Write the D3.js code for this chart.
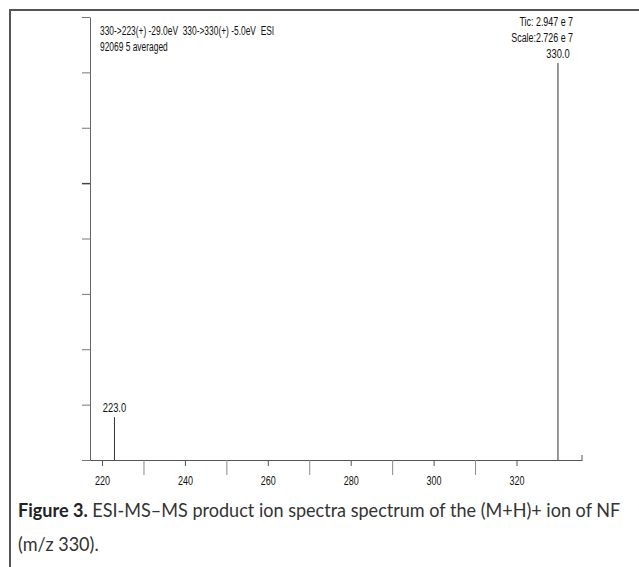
<!DOCTYPE html>
<html lang="en">
<head>
  <meta charset="UTF-8">
  <title>ESI-MS-MS product ion spectrum</title>
  <style>
    body {
      margin: 0;
      background: #fff;
    }
    .narrow {
      font-family: 'Liberation Sans Narrow', 'Liberation Sans', Arial, sans-serif;
      fill: #111;
    }
    .caption {
      font-family: 'Lato', 'Noto Sans', sans-serif;
      fill: #333;
    }
  </style>
  <script src="https://d3js.org/d3.v7.min.js"></script>
</head>
<body>
  <svg id="chart" width="639" height="567"></svg>

  <script>
    // peaks: m/z and relative abundance (330 = 100)
    const peakMz = [223.0, 330.0];
    const peakAbund = [10.8, 100];
    const peakLabels = ["223.0", "330.0"];

    const xTicks = [220, 240, 260, 280, 300, 320];
    const xMinor = [230, 250, 270, 290, 310];
    const yMax = 111.6;
    const yTicks = d3.range(0, 9).map(i => i * yMax / 8);

    const headerLines = ["330->223(+) -29.0eV  330->330(+) -5.0eV  ESI", "92069 5 averaged"];
    const infoLines = ["Tic: 2.947 e 7", "Scale:2.726 e 7"];

    const svg = d3.select("#chart");

    // squeeze a text horizontally, like the narrow instrument font
    function condense(sel, f) {
      sel.each(function () {
        const w = this.getComputedTextLength();
        if (w > 0) {
          d3.select(this).attr("textLength", w * f).attr("lengthAdjust", "spacingAndGlyphs");
        }
      });
    }

    // outer frame (left + top edges)
    svg.append("path")
      .attr("d", "M10,567 V10 H639")
      .attr("fill", "none")
      .attr("stroke", "#555")
      .attr("stroke-width", 2);

    const x = d3.scaleLinear().domain([217.1, 335.8]).range([90, 582]);
    const y = d3.scaleLinear().domain([0, yMax]).range([460, 17]);

    // y axis
    const yAxis = svg.append("g")
      .attr("transform", "translate(90,0)")
      .call(d3.axisLeft(y).tickValues(yTicks).tickSize(8).tickSizeOuter(0).tickFormat(""));
    yAxis.select(".domain").attr("stroke", "#666");
    yAxis.selectAll(".tick line").attr("stroke", "#777");
    yAxis.selectAll(".tick line").filter((d, i) => i === 5).attr("stroke", "#444").attr("stroke-width", 1.5);

    // x axis
    const xAxis = svg.append("g")
      .attr("transform", "translate(0,460)")
      .call(d3.axisBottom(x).tickValues(xTicks).tickSize(6).tickSizeOuter(0).tickPadding(10));
    xAxis.select(".domain").attr("stroke", "#555");
    xAxis.selectAll(".tick line").attr("stroke", "#555");
    xAxis.selectAll(".tick text")
      .attr("class", "narrow")
      .attr("font-size", 12)
      .attr("fill", "#111")
      .call(condense, 0.75);

    svg.append("g")
      .attr("transform", "translate(0,460)")
      .call(d3.axisBottom(x).tickValues(xMinor).tickSize(15).tickFormat(""))
      .call(g => g.select(".domain").remove())
      .selectAll(".tick line").attr("stroke", "#888");

    // small end tick at right end of the x axis
    svg.append("line")
      .attr("x1", 582).attr("x2", 582)
      .attr("y1", 460).attr("y2", 455)
      .attr("stroke", "#555");

    // peaks
    svg.selectAll(".peak")
      .data(peakMz)
      .enter().append("line")
      .attr("class", "peak")
      .attr("x1", d => x(d)).attr("x2", d => x(d))
      .attr("y1", y(0))
      .attr("y2", (d, i) => y(peakAbund[i]))
      .attr("stroke", "#333")
      .attr("stroke-width", 1);

    svg.selectAll(".plabel")
      .data(peakMz)
      .enter().append("text")
      .attr("class", "narrow plabel")
      .attr("x", d => x(d))
      .attr("y", (d, i) => y(peakAbund[i]) - 5)
      .attr("text-anchor", "middle")
      .attr("font-size", 12)
      .text((d, i) => peakLabels[i])
      .call(condense, 0.78);

    // header text
    headerLines.forEach((t, i) => {
      svg.append("text")
        .attr("class", "narrow")
        .attr("x", 100)
        .attr("y", 35 + i * 16)
        .attr("font-size", 12)
        .attr("xml:space", "preserve")
        .text(t)
        .call(condense, 0.7);
    });

    infoLines.forEach((t, i) => {
      svg.append("text")
        .attr("class", "narrow")
        .attr("x", 573)
        .attr("y", 26 + i * 16)
        .attr("text-anchor", "end")
        .attr("font-size", 12)
        .text(t)
        .call(condense, 0.74);
    });

    // caption: scaled horizontally to the width of the original line
    const cap1 = svg.append("text")
      .attr("class", "caption")
      .attr("font-size", 19);
    cap1.append("tspan").attr("font-weight", "bold").attr("fill", "#222").text("Figure 3.");
    cap1.append("tspan").text(" ESI-MS\u2013MS product ion spectra spectrum of the (M+H)+ ion of NF");
    const w1 = cap1.node().getComputedTextLength();
    const sx = w1 > 0 ? 603 / w1 : 1;
    cap1.attr("transform", `translate(18,517) scale(${sx},1)`);

    svg.append("text")
      .attr("class", "caption")
      .attr("font-size", 19)
      .attr("transform", `translate(18,551) scale(${sx},1)`)
      .text("(m/z 330).");
  </script>
</body>
</html>
